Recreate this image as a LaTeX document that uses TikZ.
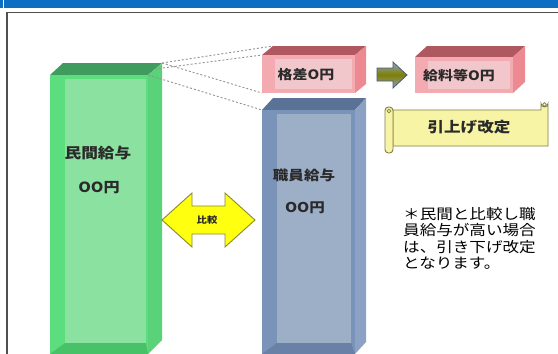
\documentclass[tikz,border=0pt]{standalone}
\usepackage{fontspec}
\newfontfamily\jp[FakeStretch=1.15]{Noto Sans CJK JP}
\definecolor{barblue}{HTML}{0A6FC2}
\definecolor{framegray}{HTML}{505050}
\definecolor{gfront}{HTML}{5CDE7E}
\definecolor{ginner}{HTML}{8BE2A0}
\definecolor{gtop}{HTML}{3F9C5E}
\definecolor{gside}{HTML}{5AD27A}
\definecolor{gbot}{HTML}{48C268}
\definecolor{bfront}{HTML}{7A93B8}
\definecolor{binner}{HTML}{9DAEC7}
\definecolor{btop}{HTML}{5A7296}
\definecolor{bside}{HTML}{8CA2C4}
\definecolor{bbot}{HTML}{6981A6}
\definecolor{rfront}{HTML}{F4AAB1}
\definecolor{rinner}{HTML}{F2C7CB}
\definecolor{rtop}{HTML}{B0585F}
\definecolor{rside}{HTML}{EC8991}
\definecolor{scrollfill}{HTML}{F7F4A6}
\definecolor{scrolldraw}{HTML}{7E7E48}
\definecolor{arrowyellow}{HTML}{FFFF10}
\definecolor{arrowedge}{HTML}{8A8A30}
\definecolor{txt}{HTML}{2A2A2A}
\tikzset{
  lbl/.style={inner sep=0pt, text=txt, font=\jp\bfseries\fontsize{14}{14}\selectfont},
  dashline/.style={draw=gray!85, dashed, dash pattern=on 2pt off 2pt, line width=0.9pt},
  scrollshape/.style={draw=scrolldraw, fill=scrollfill, line width=0.9pt},
}
\begin{document}
\begin{tikzpicture}[x=1pt,y=-1pt]
\useasboundingbox (0,0) rectangle (558,354);
\fill[white] (0,0) rectangle (558,354);
% header bar and frame
\fill[barblue] (0,0) rectangle (558,8);
\fill[white] (2.5,0) rectangle (3.5,8);
\draw[framegray, line width=1.6pt] (6.8,354) -- (6.8,12.6) -- (558,12.6);
% ---- green box (private sector pay)
\coordinate (gTL) at (50,75);
\coordinate (gTR) at (148,75);
\coordinate (gBR) at (162,63);
\fill[gtop] (gTL) -- (63,63) -- (gBR) -- (gTR) -- cycle;
\fill[gside] (gTR) -- (gBR) -- (162,340) -- (148,354) -- cycle;
\fill[gfront] (gTL) rectangle (148,354);
\fill[ginner] (65,79) rectangle (146,343);
\fill[gbot] (50,354) -- (65,343) -- (146,343) -- (148,354) -- cycle;
\node[lbl, font=\jp\bfseries\fontsize{14.5}{14.5}\selectfont] (minkan) at (98,153) {民間給与};
\node[lbl, font=\jp\bfseries\fontsize{14}{14}\selectfont] (minkanyen) at (99,188) {OO円};
% ---- blue box (staff pay)
\coordinate (bTL) at (262,110);
\fill[btop] (bTL) -- (273,98) -- (366,98) -- (355,110) -- cycle;
\fill[bside] (355,110) -- (366,98) -- (366,342) -- (355,354) -- cycle;
\fill[bfront] (bTL) rectangle (355,354);
\fill[binner] (277,114) rectangle (351,343);
\fill[bbot] (262,354) -- (277,343) -- (351,343) -- (355,354) -- cycle;
\node[lbl, font=\jp\bfseries\fontsize{13.5}{13.5}\selectfont] (shokuin) at (304,175) {職員給与};
\node[lbl, font=\jp\bfseries\fontsize{13.5}{13.5}\selectfont] (shokuinyen) at (305,208) {OO円};
% ---- red box (gap)
\coordinate (rBL) at (273,46);
\coordinate (rTL) at (262,55);
\coordinate (rLL) at (262,93);
\fill[rtop] (rTL) -- (rBL) -- (366,46) -- (355,55) -- cycle;
\fill[rside] (355,55) -- (366,46) -- (366,84) -- (355,93) -- cycle;
\fill[rfront] (rTL) rectangle (355,93);
\fill[rinner] (275,59) rectangle (352,89);
\node[lbl, font=\jp\bfseries\fontsize{13}{13}\selectfont] (kakusa) at (306,75) {格差O円};
% ---- red box 2 (salary)
\fill[rtop] (415,57) -- (427,46) -- (525,46) -- (513,57) -- cycle;
\fill[rside] (513,57) -- (525,46) -- (525,82) -- (513,93) -- cycle;
\fill[rfront] (415,57) rectangle (513,93);
\fill[rinner] (428,61) rectangle (510,89);
\node[lbl, font=\jp\bfseries\fontsize{13}{13}\selectfont] (kyuryo) at (459,75) {給料等O円};
% ---- dashed guide lines
\draw[dashline] (gBR) -- (rBL);
\draw[dashline] (155,69) -- (rTL);
\draw[dashline] (gBR) -- (rLL);
\draw[dashline] (gTR) -- (bTL);
% ---- small arrow between red boxes
\path[draw=btop!80!black, line width=0.8pt, top color=bside, bottom color=bside, middle color=olive!55!gray]
  (377,68) -- (393,68) -- (393,62) -- (407,75) -- (393,88) -- (393,81) -- (377,81) -- cycle;
% ---- comparison double arrow
\path[draw=arrowedge, fill=arrowyellow, line width=0.9pt]
  (162,220) -- (192,193) -- (192,206) -- (225,206) -- (225,193) -- (255,220)
  -- (225,247) -- (225,234) -- (192,234) -- (192,247) -- cycle;
\node[lbl, font=\jp\bfseries\fontsize{9}{9}\selectfont] (hikaku) at (207,220) {比較};
% ---- scroll
\path[scrollshape] (393,110) -- (541,110) -- (541,103.5) arc[start angle=180, end angle=0, radius=3.5]
  -- (548,143) -- (548,146) -- (393,146) -- cycle;
\draw[scrolldraw, line width=0.7pt] (544.5,104.5) circle[radius=1.8];
\draw[scrollshape, rounded corners=3.5pt] (385,107) rectangle (393,153);
\draw[scrolldraw, line width=0.7pt] (389,111) circle[radius=1.8];
\node[lbl, font=\jp\bfseries\fontsize{14.4}{14.4}\selectfont] (hikiage) at (469,127) {引上げ改定};
% ---- note
\node[inner sep=0pt, anchor=north west, align=left, text=black,
      font=\jp\fontsize{14.4}{16.5}\selectfont] (note) at (403,207)
  {＊民間と比較し職\\員給与が高い場合\\は、引き下げ改定\\となります。};
\end{tikzpicture}
\end{document}
